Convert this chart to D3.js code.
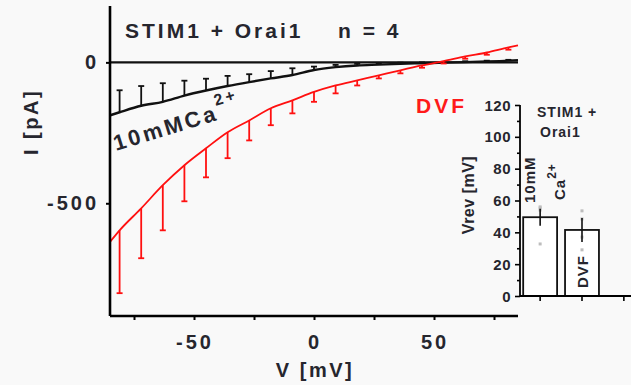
<!DOCTYPE html>
<html>
<head>
<meta charset="utf-8">
<script src="https://cdn.jsdelivr.net/npm/d3@7"></script>
<style>
  html, body { margin: 0; padding: 0; background: #f9f9f9; }
  svg { display: block; }
  text { font-family: "Liberation Sans", Arial, sans-serif; font-weight: bold; fill: #26262e; }
</style>
</head>
<body>
<div id="chart"></div>
<script>
// I-V ramp data (mV, pA)
var volt = [-85, -81, -72, -63, -54, -45, -36, -27, -18, -9, 0, 9, 18, 27, 36, 45, 54, 63, 72, 81, 85];
var caMean = [-188, -177, -154, -140, -118, -100, -84, -70, -57, -45, -27, -17, -11, -8, -5, -3, -1, 1, 3, 6, 8];
var caErr = [0, 78, 70, 66, 53, 42, 36, 28, 26, 24, 12, 8, 6, 5, 4, 3, 3, 3, 3, 3, 0];
var dvfMean = [-637, -596, -518, -436, -365, -305, -248, -206, -163, -135, -105, -82, -64, -46, -28, -11, 4, 21, 35, 53, 60];
var dvfErr = [0, 223, 177, 160, 128, 103, 92, 71, 60, 46, 35, 28, 18, 11, 11, 8, 8, 8, 8, 8, 0];

var xTicks = [-50, 0, 50];
var yTicks = [0, -500];

// inset: reversal potentials
var barCats = ["ca", "dvf", "none"];
var barMeans = [49.5, 41.5];
var barErr = [5.3, 7.5];
var barDots = [[55.3, 54, 56, 32.7], [53.5, 48.4, 37, 29]];
var insetTicks = [0, 20, 40, 60, 80, 100, 120];

var W = 631, H = 385;
var svg = d3.select("#chart").append("svg").attr("width", W).attr("height", H);
svg.append("rect").attr("width", W).attr("height", H).attr("fill", "#f9f9f9");

var x = d3.scaleLinear().domain([-85, 85]).range([110, 518]);
var y = d3.scaleLinear().domain([-900, 200]).range([316, 6]);

// zero line
svg.append("line")
    .attr("x1", x(-85)).attr("x2", x(85))
    .attr("y1", y(0)).attr("y2", y(0))
    .attr("stroke", "#111").attr("stroke-width", 2.2);

var line = d3.line()
    .x(d => x(d[0]))
    .y(d => y(d[1]))
    .curve(d3.curveMonotoneX);

function drawSeries(means, errs, color, dir, width) {
    var pts = volt.map((v, i) => [v, means[i], errs[i]]);
    var g = svg.append("g");
    var eb = g.selectAll("g.eb").data(pts.filter(d => d[2] > 0)).enter().append("g");
    eb.append("line")
        .attr("x1", d => x(d[0])).attr("x2", d => x(d[0]))
        .attr("y1", d => y(d[1])).attr("y2", d => y(d[1] + dir * d[2]))
        .attr("stroke", color).attr("stroke-width", 1.8);
    eb.append("line")
        .attr("x1", d => x(d[0]) - 3).attr("x2", d => x(d[0]) + 3)
        .attr("y1", d => y(d[1] + dir * d[2])).attr("y2", d => y(d[1] + dir * d[2]))
        .attr("stroke", color).attr("stroke-width", 1.8);
    g.append("path").attr("d", line(pts))
        .attr("fill", "none").attr("stroke", color).attr("stroke-width", width);
}
drawSeries(caMean, caErr, "#111", 1, 2.4);
drawSeries(dvfMean, dvfErr, "#ff1010", -1, 1.8);

// axes
var xAxis = svg.append("g").attr("transform", "translate(0," + 316 + ")")
    .call(d3.axisBottom(x).tickValues([-75, -50, -25, 0, 25, 50, 75]).tickSize(4).tickFormat(""));
xAxis.select(".domain").attr("d", "M" + x(-85) + ",0H" + x(85)).attr("stroke-width", 2.6);
xAxis.selectAll(".tick line").attr("stroke-width", 2);

var yAxis = svg.append("g").attr("transform", "translate(" + 110 + ",0)")
    .call(d3.axisLeft(y).tickValues(yTicks).tickSize(4).tickFormat(""));
yAxis.select(".domain").attr("d", "M0," + y(200) + "V" + y(-900)).attr("stroke-width", 2.6);
yAxis.selectAll(".tick line").attr("stroke-width", 2);

svg.selectAll("text.xt").data(xTicks).enter().append("text")
    .attr("x", d => x(d) + 1).attr("y", 349)
    .attr("text-anchor", "middle").attr("font-size", 20).attr("letter-spacing", 3)
    .text(d => d);
svg.selectAll("text.yt").data(yTicks).enter().append("text")
    .attr("x", 99).attr("y", d => y(d) + 7)
    .attr("text-anchor", "end").attr("font-size", 20).attr("letter-spacing", 3)
    .text(d => d);

svg.append("text").attr("x", 315).attr("y", 377).attr("text-anchor", "middle")
    .attr("font-size", 20).attr("letter-spacing", 2.5).text("V [mV]");
svg.append("text").attr("transform", "translate(38,122) rotate(-90)").attr("text-anchor", "middle")
    .attr("font-size", 20).attr("letter-spacing", 2.5).text("I [pA]");

// labels
svg.append("text").attr("x", 125).attr("y", 38).attr("font-size", 21).attr("letter-spacing", 3)
    .text("STIM1 + Orai1");
svg.append("text").attr("x", 338).attr("y", 38).attr("font-size", 21).attr("letter-spacing", 3)
    .text("n = 4");
svg.append("text").attr("x", 416).attr("y", 113).attr("font-size", 21).attr("letter-spacing", 3)
    .style("fill", "#ff1a1a").text("DVF");

var caLab = svg.append("text").attr("transform", "translate(116,151) rotate(-17)")
    .attr("font-size", 22).attr("letter-spacing", 3);
caLab.append("tspan").text("10mMCa");
caLab.append("tspan").attr("dy", -14).attr("font-size", 16).text("2+");

// inset bar chart
var bx = d3.scaleBand().domain(barCats).range([519, 645]).paddingInner(0.19).paddingOuter(0.1);
var by = d3.scaleLinear().domain([0, 120]).range([296, 105]);

var bars = svg.append("g");
bars.selectAll("rect").data(barMeans).enter().append("rect")
    .attr("x", (d, i) => bx(barCats[i])).attr("width", bx.bandwidth())
    .attr("y", d => by(d)).attr("height", d => by(0) - by(d))
    .attr("fill", "#fff").attr("stroke", "#111").attr("stroke-width", 1.8);

barDots.forEach(function(vals, i) {
    bars.selectAll("rect.dot" + i).data(vals).enter().append("rect")
        .attr("x", bx(barCats[i]) + bx.bandwidth() / 2 - 1.5).attr("y", d => by(d) - 1.5)
        .attr("width", 3).attr("height", 3).attr("fill", "#bdbdbd");
});
bars.selectAll("line.err").data(barMeans).enter().append("line")
    .attr("x1", (d, i) => bx(barCats[i]) + bx.bandwidth() / 2)
    .attr("x2", (d, i) => bx(barCats[i]) + bx.bandwidth() / 2)
    .attr("y1", (d, i) => by(d - barErr[i])).attr("y2", (d, i) => by(d + barErr[i]))
    .attr("stroke", "#111").attr("stroke-width", 1.6);

var bxAxis = svg.append("g").attr("transform", "translate(0,296)")
    .call(d3.axisBottom(bx).tickSize(5).tickFormat(""));
bxAxis.select(".domain").attr("d", "M520,0H631").attr("stroke-width", 1.8);
bxAxis.selectAll(".tick line").attr("stroke-width", 1.6);

var byAxis = svg.append("g").attr("transform", "translate(520,0)")
    .call(d3.axisLeft(by).tickValues(d3.range(0, 121, 10)).tickSize(3).tickFormat(""));
byAxis.selectAll(".tick line").attr("x2", d => d % 20 === 0 ? -5 : -3).attr("stroke-width", 1.6);
byAxis.select(".domain").attr("d", "M0," + by(120) + "V" + by(0)).attr("stroke-width", 1.8);

svg.selectAll("text.bt").data(insetTicks).enter().append("text")
    .attr("x", 511).attr("y", d => by(d) + 5.5)
    .attr("text-anchor", "end").attr("font-size", 15).attr("letter-spacing", 0.5)
    .text(d => d);

svg.append("text").attr("transform", "translate(474,195) rotate(-90)").attr("text-anchor", "middle")
    .attr("font-size", 16).attr("letter-spacing", 0.5).text("Vrev [mV]");
svg.append("text").attr("x", 537).attr("y", 117).attr("font-size", 14).attr("letter-spacing", 1)
    .text("STIM1 +");
svg.append("text").attr("x", 540).attr("y", 137).attr("font-size", 14).attr("letter-spacing", 1)
    .text("Orai1");

svg.append("text").attr("transform", "translate(535,203) rotate(-90)")
    .attr("font-size", 15).attr("letter-spacing", 1).text("10mM");
var ca2 = svg.append("text").attr("transform", "translate(565,200) rotate(-90)")
    .attr("font-size", 15).attr("letter-spacing", 1);
ca2.append("tspan").text("Ca");
ca2.append("tspan").attr("dy", -9).attr("font-size", 12).text("2+");
svg.append("text").attr("transform", "translate(588,288) rotate(-90)")
    .attr("font-size", 15).attr("letter-spacing", 1).text("DVF");
</script>
</body>
</html>
